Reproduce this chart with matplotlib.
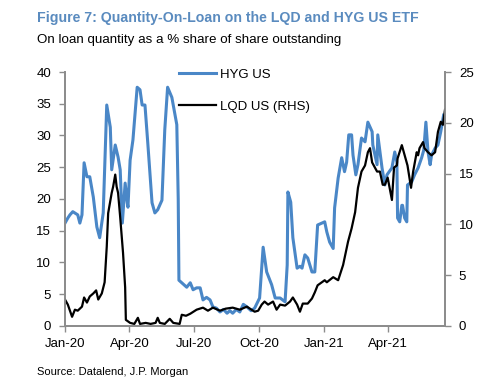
import numpy as np
import pandas as pd
import matplotlib
matplotlib.use("Agg")
import matplotlib.pyplot as plt
import matplotlib.dates as mdates

plt.rcParams.update({
    "font.family": ["Liberation Sans", "DejaVu Sans"],
    "font.size": 9.5,
})

BLUE = "#4A87C7"
TITLE_BLUE = "#5A8BBF"
GREY = "#8C8C8C"

# HYG US, % of shares outstanding (left axis)
hyg_dates = [
    "2020-01-01", "2020-01-05", "2020-01-08", "2020-01-12", "2020-01-19", "2020-01-22",
    "2020-01-25", "2020-01-28", "2020-02-01", "2020-02-05", "2020-02-10", "2020-02-15",
    "2020-02-19", "2020-02-24", "2020-02-29", "2020-03-05", "2020-03-07", "2020-03-12",
    "2020-03-16", "2020-03-19", "2020-03-22", "2020-03-26", "2020-03-29", "2020-03-30",
    "2020-04-02", "2020-04-06", "2020-04-12", "2020-04-16", "2020-04-19", "2020-04-23",
    "2020-04-27", "2020-05-03", "2020-05-07", "2020-05-11", "2020-05-17", "2020-05-21",
    "2020-05-25", "2020-05-31", "2020-06-04", "2020-06-07", "2020-06-09", "2020-06-10",
    "2020-06-14", "2020-06-21", "2020-06-26", "2020-06-30", "2020-07-05", "2020-07-10",
    "2020-07-14", "2020-07-19", "2020-07-24", "2020-07-28", "2020-08-02", "2020-08-07",
    "2020-08-12", "2020-08-17", "2020-08-21", "2020-08-25", "2020-08-30", "2020-09-04",
    "2020-09-09", "2020-09-14", "2020-09-20", "2020-09-25", "2020-10-02", "2020-10-07",
    "2020-10-12", "2020-10-19", "2020-10-24", "2020-10-31", "2020-11-07", "2020-11-10",
    "2020-11-11", "2020-11-15", "2020-11-18", "2020-11-24", "2020-11-28", "2020-12-01",
    "2020-12-05", "2020-12-09", "2020-12-15", "2020-12-19", "2020-12-23", "2020-12-29",
    "2021-01-02", "2021-01-05", "2021-01-09", "2021-01-14", "2021-01-16", "2021-01-21",
    "2021-01-26", "2021-01-30", "2021-02-02", "2021-02-05", "2021-02-09", "2021-02-11",
    "2021-02-15", "2021-02-18", "2021-02-23", "2021-02-28", "2021-03-04", "2021-03-10",
    "2021-03-11", "2021-03-17", "2021-03-18", "2021-03-24", "2021-03-28", "2021-03-31",
    "2021-04-07", "2021-04-11", "2021-04-14", "2021-04-15", "2021-04-18", "2021-04-21",
    "2021-04-22", "2021-04-25", "2021-04-28", "2021-04-29", "2021-05-05", "2021-05-09",
    "2021-05-14", "2021-05-19", "2021-05-22", "2021-05-25", "2021-05-28", "2021-05-31",
    "2021-06-02", "2021-06-07", "2021-06-11", "2021-06-15", "2021-06-19",
]
hyg_vals = [
    16.2, 17.0, 17.5, 18.0, 17.5, 16.2,
    17.5, 25.7, 23.5, 23.5, 20.3, 15.6,
    13.9, 17.8, 34.8, 31.3, 24.6, 28.5,
    26.6, 24.6, 16.2, 22.5, 19.4, 18.7,
    26.1, 29.3, 37.6, 37.2, 34.8, 34.8,
    28.8, 19.4, 17.8, 18.3, 19.8, 30.9,
    37.6, 36.0, 33.5, 31.7, 20.0, 7.2,
    6.8, 6.1, 6.8, 5.7, 6.0, 6.0,
    4.1, 4.5, 4.1, 3.0, 2.8, 2.2,
    2.6, 2.0, 2.4, 2.0, 2.6, 2.2,
    3.4, 3.0, 2.4, 2.8, 4.4, 12.4,
    8.5, 6.5, 4.4, 4.4, 3.8, 9.6,
    21.1, 19.5, 13.9, 9.1, 9.4, 9.1,
    11.2, 10.7, 8.5, 8.5, 15.9, 16.2,
    16.4, 14.8, 13.2, 12.2, 18.6, 23.3,
    26.5, 24.3, 25.8, 30.1, 30.1, 26.9,
    23.8, 25.4, 29.6, 29.0, 32.1, 30.6,
    28.5, 25.4, 30.1, 24.9, 22.2, 23.8,
    24.9, 27.4, 25.8, 17.0, 16.4, 19.0,
    19.0, 17.0, 16.4, 22.2, 22.7, 23.8,
    24.9, 26.5, 27.7, 32.1, 27.4, 25.4,
    26.9, 28.0, 28.5, 30.6, 33.2,
]

# LQD US, % of shares outstanding (right axis)
lqd_dates = [
    "2020-01-01", "2020-01-05", "2020-01-11", "2020-01-15", "2020-01-19", "2020-01-25",
    "2020-01-28", "2020-02-01", "2020-02-05", "2020-02-10", "2020-02-14", "2020-02-17",
    "2020-02-22", "2020-02-26", "2020-02-29", "2020-03-02", "2020-03-07", "2020-03-09",
    "2020-03-12", "2020-03-14", "2020-03-16", "2020-03-19", "2020-03-23", "2020-03-26",
    "2020-03-27", "2020-04-02", "2020-04-08", "2020-04-13", "2020-04-16", "2020-04-24",
    "2020-05-01", "2020-05-08", "2020-05-11", "2020-05-14", "2020-05-21", "2020-05-28",
    "2020-06-02", "2020-06-11", "2020-06-14", "2020-06-20", "2020-06-26", "2020-07-05",
    "2020-07-14", "2020-07-21", "2020-07-28", "2020-08-07", "2020-08-15", "2020-08-25",
    "2020-09-04", "2020-09-14", "2020-09-25", "2020-09-30", "2020-10-05", "2020-10-09",
    "2020-10-14", "2020-10-21", "2020-10-26", "2020-10-31", "2020-11-07", "2020-11-14",
    "2020-11-18", "2020-11-24", "2020-11-28", "2020-12-02", "2020-12-09", "2020-12-15",
    "2020-12-19", "2020-12-23", "2020-12-29", "2021-01-02", "2021-01-05", "2021-01-14",
    "2021-01-21", "2021-01-28", "2021-02-04", "2021-02-09", "2021-02-14", "2021-02-18",
    "2021-02-23", "2021-02-28", "2021-03-04", "2021-03-07", "2021-03-10", "2021-03-17",
    "2021-03-21", "2021-03-25", "2021-03-28", "2021-04-01", "2021-04-07", "2021-04-10",
    "2021-04-14", "2021-04-15", "2021-04-21", "2021-04-25", "2021-04-29", "2021-05-04",
    "2021-05-07", "2021-05-12", "2021-05-14", "2021-05-16", "2021-05-21", "2021-05-23",
    "2021-05-28", "2021-06-02", "2021-06-07", "2021-06-11", "2021-06-15", "2021-06-18",
    "2021-06-21",
]
lqd_vals = [
    2.6, 2.1, 0.9, 1.6, 1.5, 1.9,
    2.8, 2.3, 2.9, 3.2, 3.5, 2.6,
    3.2, 4.3, 7.8, 11.1, 13.1, 13.7,
    14.9, 13.7, 13.1, 10.7, 7.2, 3.8,
    0.6, 0.3, 0.2, 0.8, 0.2, 0.3,
    0.2, 0.3, 0.8, 0.3, 0.2, 0.7,
    0.3, 0.2, 1.1, 1.0, 1.2, 1.6,
    1.8, 1.5, 1.8, 1.5, 1.7, 1.8,
    1.6, 1.9, 1.4, 1.5, 2.1, 2.4,
    2.1, 2.4, 1.6, 2.1, 2.0, 2.4,
    2.8, 2.1, 1.4, 2.2, 2.2, 2.7,
    3.3, 4.0, 4.3, 4.5, 4.3, 4.8,
    4.5, 6.0, 8.3, 9.6, 11.2, 13.6,
    15.2, 15.8, 17.1, 17.5, 16.1, 15.2,
    15.2, 13.9, 13.9, 14.6, 12.4, 15.6,
    15.8, 16.5, 17.8, 16.8, 15.8, 13.6,
    15.2, 17.1, 16.8, 17.5, 18.1, 17.5,
    17.1, 16.8, 17.1, 19.1, 20.1, 19.8,
    21.3,
]

hyg = pd.Series(hyg_vals, index=pd.to_datetime(hyg_dates))
lqd = pd.Series(lqd_vals, index=pd.to_datetime(lqd_dates))

fig = plt.figure(figsize=(5.0, 3.83), dpi=100)
ax = fig.add_axes([0.13, 0.149, 0.76, 0.663])
ax2 = ax.twinx()

l1, = ax.plot(hyg.index, hyg.values, color=BLUE, lw=2.2, label="HYG US")
l2, = ax2.plot(lqd.index, lqd.values, color="black", lw=1.6, label="LQD US (RHS)")

ax.set_ylim(0, 40)
ax.set_yticks(range(0, 41, 5))
ax2.set_ylim(0, 25)
ax2.set_yticks(range(0, 26, 5))
ax.set_xlim(pd.Timestamp("2020-01-01"), pd.Timestamp("2021-06-21"))
ax.xaxis.set_major_locator(mdates.MonthLocator(bymonth=[1, 4, 7, 10]))
ax.xaxis.set_major_formatter(mdates.DateFormatter("%b-%y"))

for a in (ax, ax2):
    a.spines["top"].set_visible(False)
    for s in ("left", "right", "bottom"):
        a.spines[s].set_color(GREY)
        a.spines[s].set_linewidth(1.3)
    a.tick_params(colors=GREY, labelcolor="black", length=4, width=1.0,
                  labelsize=9.5)
ax.tick_params(axis="y", pad=6)
ax2.tick_params(axis="y", pad=6)
ax.tick_params(axis="x", pad=5)

ax.legend([l1, l2], ["HYG US", "LQD US (RHS)"], loc="upper left",
          bbox_to_anchor=(0.27, 1.06), frameon=False, handlelength=2.8,
          labelspacing=1.5, fontsize=9.5, handletextpad=0.3)

fig.text(0.074, 0.952, "Figure 7: Quantity-On-Loan on the LQD and HYG US ETF",
         color=TITLE_BLUE, fontsize=10.2, fontweight="bold", va="center")
fig.text(0.074, 0.895, "On loan quantity as a % share of share outstanding",
         fontsize=9.6, va="center")
fig.text(0.074, 0.028, "Source: Datalend, J.P. Morgan", fontsize=8.0, va="center")

fig.savefig("out.png", dpi=100)
